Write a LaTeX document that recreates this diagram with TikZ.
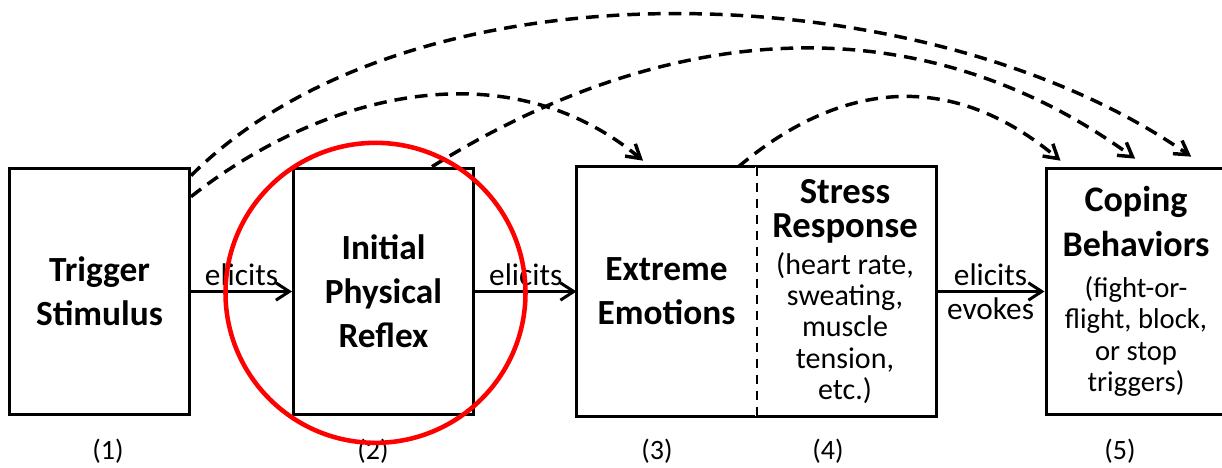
\documentclass[tikz,border=0pt]{standalone}
\usepackage{fontspec}
\setmainfont{Carlito}
\usetikzlibrary{arrows.meta}

\begin{document}
\begin{tikzpicture}[x=0.75pt, y=-0.75pt,
    box/.style={line width=2.25pt, minimum width=135pt, minimum height=185pt, inner sep=0pt, align=center},
    title/.style={font=\bfseries\fontsize{26.5}{33}\selectfont},
    detail/.style={font=\fontsize{22.5}{23.5}\selectfont},
    flow/.style={line width=2.25pt, -{Straight Barb[length=10pt,width=13pt]}},
    link/.style={line width=2.6pt, dash pattern=on 9.5pt off 6pt, -{Straight Barb[length=10pt,width=12pt]}},
    word/.style={font=\fontsize{23.5}{26}\selectfont, inner sep=3.5pt},
    num/.style={font=\fontsize{21}{24}\selectfont, inner sep=0.5pt}]
    \useasboundingbox (0,0) rectangle (1222,468);
    \node[box, draw, title] (trig) at (99.5,291.5) {Trigger\\Stimulus};
    \node[box, draw, title] (reflex) at (383.5,291.5) {Initial\\Physical\\Reflex};
    \node[box, title, minimum width=132.75pt] (emot) at (666.5,291.5) {Extreme\\Emotions};
    \node[box, detail] (stress) at (845,291.5) {{\bfseries\fontsize{27.5}{26}\selectfont Stress}\\[2pt]{\bfseries\fontsize{27.5}{26}\selectfont Response}\\[4pt](heart rate,\\sweating,\\muscle\\tension,\\etc.)};
    \node[box, draw, detail, font=\fontsize{21.5}{23.5}\selectfont] (coping) at (1136,291.5) {{\bfseries\fontsize{27}{26}\selectfont Coping}\\[9pt]{\bfseries\fontsize{27}{26}\selectfont Behaviors}\\[7pt](fight-or-\\flight, block,\\or stop\\triggers)};
    \draw[line width=2.25pt] (emot.north west) rectangle (stress.south east);
    \draw[white, line width=2pt] (emot.north east) -- (emot.south east);
    \draw[line width=1.5pt, dash pattern=on 7pt off 5pt] (emot.north east) -- (emot.south east);
    \node[num] (n1) at (108,451) {(1)};
    \node[num] (n2) at (373,451) {(2)};
    \node[num] (n3) at (657,451) {(3)};
    \node[num] (n4) at (828,451) {(4)};
    \node[num] (n5) at (1120,451) {(5)};
    \draw[flow] (trig) -- node[word, above] {elicits} (reflex);
    \draw[flow] (reflex) -- node[word, above] {elicits} (emot);
    \draw[flow] (stress) -- node[word, above] {elicits} node[word, below] {evokes} (coping);
    \draw[link] ([yshift=-22.5pt]trig.north east) .. controls +(136,-107) and +(-133,-111) .. ([xshift=-17.6pt,yshift=4.5pt]emot.north);
    \draw[link] ([yshift=-6.75pt]trig.north east) .. controls +(224,-224) and +(-260,-182) .. ([xshift=110pt,yshift=7.5pt]coping.north west);
    \draw[link] ([xshift=36.4pt]reflex.north) .. controls +(231,-144) and +(-220,-160) .. ([xshift=68pt,yshift=6pt]coping.north west);
    \draw[link] ([xshift=-13.5pt]emot.north east) .. controls +(106,-89) and +(-106,-89) .. ([xshift=12pt,yshift=4.5pt]coping.north west);
    \draw[red, line width=3.4pt] ([xshift=-6pt,yshift=-1pt]reflex.center) circle[radius=112.5pt];
\end{tikzpicture}
\end{document}
